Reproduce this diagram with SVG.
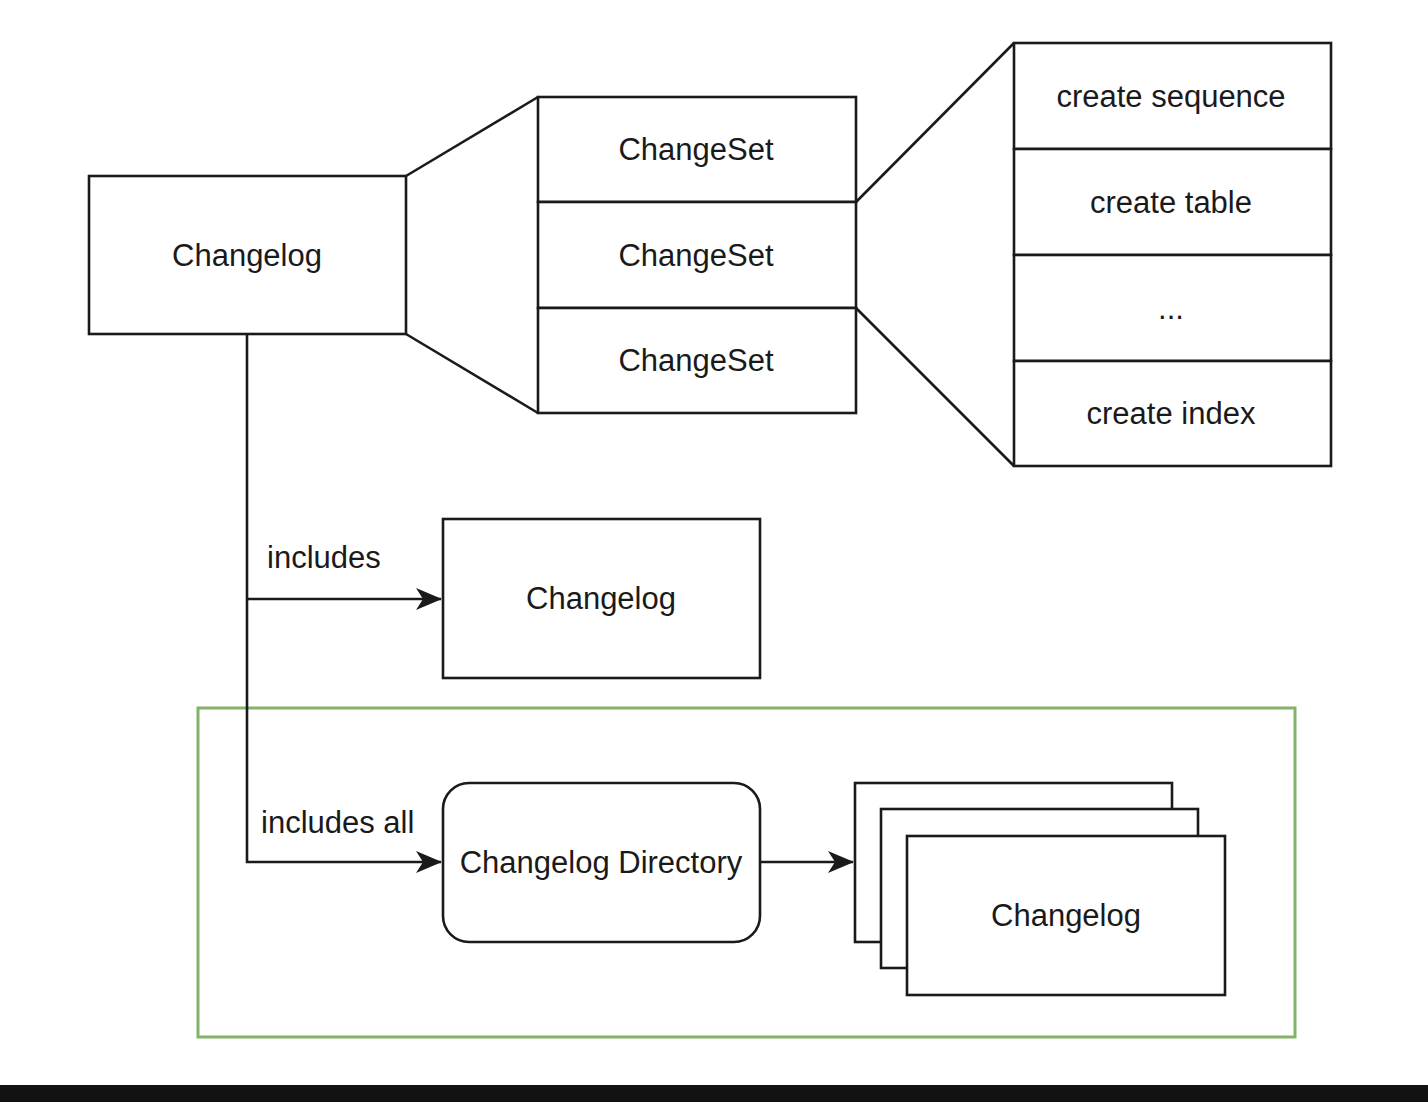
<svg xmlns="http://www.w3.org/2000/svg" width="1428" height="1102" viewBox="0 0 1428 1102">
<style>
.box{fill:#fff;stroke:#1a1a1a;stroke-width:2.6}
.ln{fill:none;stroke:#1a1a1a;stroke-width:2.6}
.t{font-family:"Liberation Sans",Arial,sans-serif;font-size:31px;fill:#1a1a1a;text-anchor:middle;dominant-baseline:central}
.lb{font-family:"Liberation Sans",Arial,sans-serif;font-size:31px;fill:#1a1a1a}
</style>
<defs>
<marker id="arr" markerWidth="12" markerHeight="10" refX="11" refY="5" orient="auto" markerUnits="userSpaceOnUse" viewBox="0 0 12 10">
<path d="M0,0 L12,5 L0,10 L3,5 Z" fill="#1a1a1a"/>
</marker>
<marker id="arrow" viewBox="0 0 26 22" refX="25" refY="11" markerWidth="26" markerHeight="22" orient="auto" markerUnits="userSpaceOnUse">
<path d="M0,0 L26,11 L0,22 L7,11 Z" fill="#1a1a1a"/>
</marker>
</defs>
<rect width="1428" height="1102" fill="#fff"/>
<rect x="0" y="1085" width="1428" height="17" fill="#121212"/>

<g id="container">
<rect x="198" y="708" width="1097" height="329" fill="none" stroke="#82b366" stroke-width="3"/>
</g>

<g id="connectors">
<line class="ln" x1="406" y1="176" x2="538" y2="97"/>
<line class="ln" x1="406" y1="334" x2="538" y2="413"/>
<line class="ln" x1="856" y1="202" x2="1014" y2="43"/>
<line class="ln" x1="856" y1="308" x2="1014" y2="466"/>
<path class="ln" d="M247,334 V862 H441" marker-end="url(#arrow)"/>
<path class="ln" d="M247,599 H441" marker-end="url(#arrow)"/>
<path class="ln" d="M760,862 H853" marker-end="url(#arrow)"/>
<text class="lb" x="267" y="568">includes</text>
<text class="lb" x="261" y="833">includes all</text>
</g>

<g id="changelog-main">
<rect class="box" x="89" y="176" width="317" height="158"/>
<text class="t" x="247" y="255">Changelog</text>
</g>

<g id="changeset-1">
<rect class="box" x="538" y="97" width="318" height="105"/>
<text class="t" x="696" y="149">ChangeSet</text>
</g>
<g id="changeset-2">
<rect class="box" x="538" y="202" width="318" height="106"/>
<text class="t" x="696" y="255">ChangeSet</text>
</g>
<g id="changeset-3">
<rect class="box" x="538" y="308" width="318" height="105"/>
<text class="t" x="696" y="360">ChangeSet</text>
</g>

<g id="create-sequence">
<rect class="box" x="1014" y="43" width="317" height="106"/>
<text class="t" x="1171" y="96">create sequence</text>
</g>
<g id="create-table">
<rect class="box" x="1014" y="149" width="317" height="106"/>
<text class="t" x="1171" y="202">create table</text>
</g>
<g id="ellipsis">
<rect class="box" x="1014" y="255" width="317" height="106"/>
<text class="t" x="1171" y="308">...</text>
</g>
<g id="create-index">
<rect class="box" x="1014" y="361" width="317" height="105"/>
<text class="t" x="1171" y="413">create index</text>
</g>

<g id="changelog-included">
<rect class="box" x="443" y="519" width="317" height="159"/>
<text class="t" x="601" y="598">Changelog</text>
</g>

<g id="changelog-directory">
<rect class="box" x="443" y="783" width="317" height="159" rx="26" ry="26"/>
<text class="t" x="601" y="862">Changelog Directory</text>
</g>

<g id="changelog-stack">
<rect class="box" x="855" y="783" width="317" height="159"/>
<rect class="box" x="881" y="809" width="317" height="159"/>
<rect class="box" x="907" y="836" width="318" height="159"/>
<text class="t" x="1066" y="915">Changelog</text>
</g>
</svg>
